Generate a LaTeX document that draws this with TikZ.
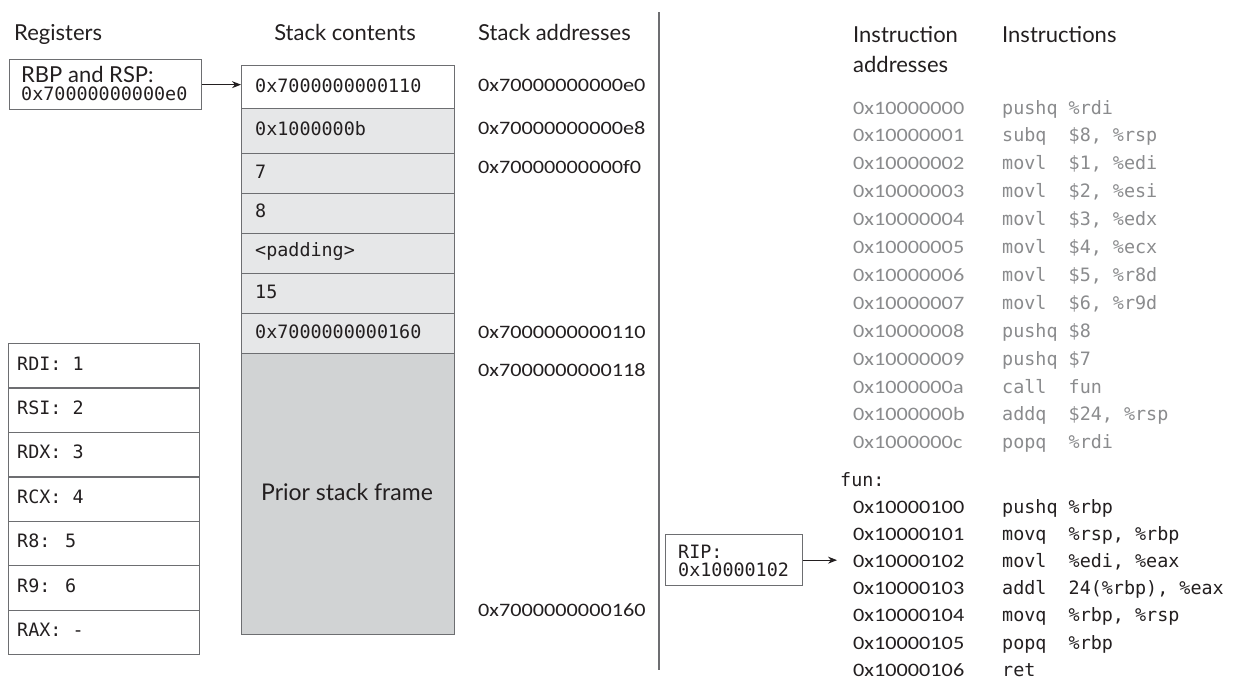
\documentclass[tikz,border=0pt]{standalone}
\usepackage{fontspec}
\setmainfont{Lato}
\newfontfamily\hf{Lato}
\newfontfamily\mf{DejaVu Sans Mono}
\newfontfamily\af[FakeStretch=1.17]{Carlito}
\usetikzlibrary{arrows.meta}
\definecolor{edge}{HTML}{6D6E71}
\definecolor{cellA}{HTML}{E6E7E8}
\definecolor{cellB}{HTML}{D1D3D4}
\definecolor{ink}{HTML}{231F20}
\definecolor{dim}{HTML}{8A8B8D}
\tikzset{
  head/.style={anchor=base west, inner sep=0pt, text=ink, font=\hf\fontsize{22}{22}\selectfont},
  code/.style={anchor=base west, inner sep=0pt, text=ink, font=\mf\fontsize{18.4}{18}\selectfont},
  addr/.style={anchor=base west, inner sep=0pt, text=ink, font=\af\fontsize{19}{19}\selectfont},
  box/.style={draw=edge, line width=1.3pt, anchor=north west, inner sep=0pt},
  ptr/.style={draw=ink, line width=1pt, -{Stealth[length=9pt,width=7pt]}},
}
\begin{document}
\begin{tikzpicture}[x=1pt,y=-1pt]
\path[use as bounding box] (0,0) rectangle (1238,681);

% column headings
\node[head] (hreg) at (14,40) {Registers};
\node[head, anchor=base] (hstk) at (345,40) {Stack contents};
\node[head] (hadr) at (478,40) {Stack addresses};
\node[head] (hia1) at (853,42) {Instruction};
\node[head] (hia2) at (853,72) {addresses};
\node[head] (hins) at (1002,42) {Instructions};

% divider between stack and code halves
\draw[edge, line width=1.5pt] (659,12) -- (659,670);

% stack cells
\node[box, fill=white, minimum width=213pt, minimum height=43pt] (s1) at (241,65) {};
\node[box, fill=cellA, minimum width=213pt, minimum height=45pt] (s2) at (241,108) {};
\node[box, fill=cellA, minimum width=213pt, minimum height=40pt] (s3) at (241,153) {};
\node[box, fill=cellA, minimum width=213pt, minimum height=40pt] (s4) at (241,193) {};
\node[box, fill=cellA, minimum width=213pt, minimum height=40pt] (s5) at (241,233) {};
\node[box, fill=cellA, minimum width=213pt, minimum height=40pt] (s6) at (241,273) {};
\node[box, fill=cellA, minimum width=213pt, minimum height=40pt] (s7) at (241,313) {};
\node[box, fill=cellB, minimum width=213pt, minimum height=281pt] (s8) at (241,353) {};

\node[code] (t1) at (255,92) {0x7000000000110};
\node[code] (t2) at (255,135) {0x1000000b};
\node[code] (t3) at (255,178) {7};
\node[code] (t4) at (255,217) {8};
\node[code] (t5) at (255,256) {<padding>};
\node[code] (t6) at (255,298) {15};
\node[code] (t7) at (255,338) {0x7000000000160};
\node[head, anchor=base, font=\hf\fontsize{23}{23}\selectfont] (t8) at (347,500) {Prior stack frame};

% stack addresses
\node[addr] (a1) at (478,91) {0x70000000000e0};
\node[addr] (a2) at (478,134) {0x70000000000e8};
\node[addr] (a3) at (478,173) {0x70000000000f0};
\node[addr] (a4) at (478,338) {0x7000000000110};
\node[addr] (a5) at (478,376) {0x7000000000118};
\node[addr] (a6) at (478,616) {0x7000000000160};

% frame and stack pointer
\node[box, minimum width=192pt, minimum height=50pt] (rbp) at (9,59) {};
\node[head] (rbpl) at (21,82) {RBP and RSP:};
\node[code] (rbpv) at (21,100) {0x70000000000e0};
\draw[ptr] (rbp.east) -- (rbp.east -| s1.west);

% argument registers
\foreach \r [count=\k from 0] in {RDI: 1, RSI: 2, RDX: 3, RCX: 4, R8: 5, R9: 6, RAX: -} {
  \node[box, minimum width=191pt, minimum height=44.43pt] (reg\k) at (8,{343+44.43*\k}) {};
  \node[code] (regt\k) at (17,{370+44.43*\k}) {\r};
}

% caller code
\foreach \a/\i [count=\n from 0] in {
  10000000/{pushq \%rdi},
  10000001/{subq~~\$8, \%rsp},
  10000002/{movl~~\$1, \%edi},
  10000003/{movl~~\$2, \%esi},
  10000004/{movl~~\$3, \%edx},
  10000005/{movl~~\$4, \%ecx},
  10000006/{movl~~\$5, \%r8d},
  10000007/{movl~~\$6, \%r9d},
  10000008/{pushq \$8},
  10000009/{pushq \$7},
  1000000a/{call~~fun},
  1000000b/{addq~~\$24, \%rsp},
  1000000c/{popq~~\%rdi}} {
  \node[addr, text=dim] (ga\n) at (853,{114+27.9*\n}) {0x\a};
  \node[code, text=dim] (gi\n) at (1002,{114+27.9*\n}) {\i};
}

% callee code
\node[code] (fun) at (840,486) {fun:};
\foreach \a/\i [count=\n from 0] in {
  10000100/{pushq \%rbp},
  10000101/{movq~~\%rsp, \%rbp},
  10000102/{movl~~\%edi, \%eax},
  10000103/{addl~~24(\%rbp), \%eax},
  10000104/{movq~~\%rbp, \%rsp},
  10000105/{popq~~\%rbp},
  10000106/{ret}} {
  \node[addr] (fa\n) at (853,{513+27.2*\n}) {0x\a};
  \node[code] (fi\n) at (1002,{513+27.2*\n}) {\i};
}

% instruction pointer
\node[box, minimum width=137pt, minimum height=51pt] (rip) at (665,534) {};
\node[code] (ripl) at (678,558) {RIP:};
\node[code] (ripv) at (678,576) {0x10000102};
\coordinate (riptip) at (837,560);
\draw[ptr] (rip.east) -- (rip.east -| riptip);
\end{tikzpicture}
\end{document}
